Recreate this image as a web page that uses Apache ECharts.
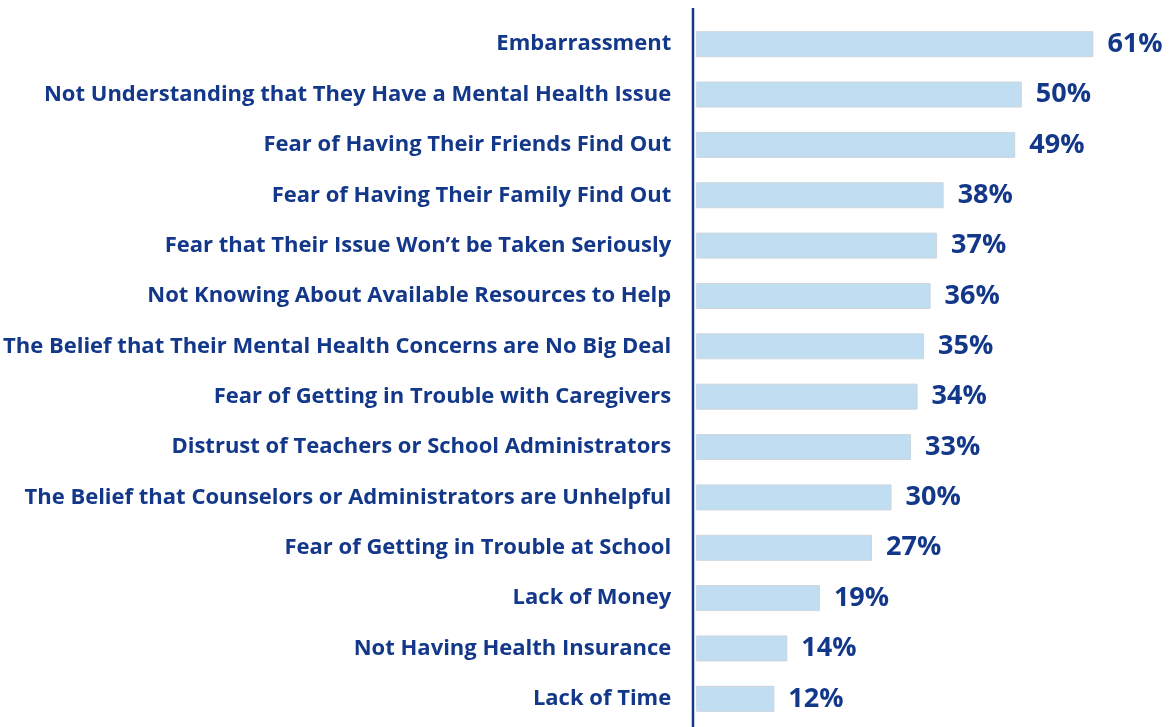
<!DOCTYPE html>
<html>
<head>
<meta charset="utf-8">
<script src="https://cdn.jsdelivr.net/npm/echarts@6/dist/echarts.min.js"></script>
<style>
html,body{margin:0;padding:0;background:#fff;}
#c{width:1172px;height:727px;}
</style>
</head>
<body>
<div id="c"></div>
<script>
var categories = [
  "Embarrassment",
  "Not Understanding that They Have a Mental Health Issue",
  "Fear of Having Their Friends Find Out",
  "Fear of Having Their Family Find Out",
  "Fear that Their Issue Won\u2019t be Taken Seriously",
  "Not Knowing About Available Resources to Help",
  "The Belief that Their Mental Health Concerns are No Big Deal",
  "Fear of Getting in Trouble with Caregivers",
  "Distrust of Teachers or School Administrators",
  "The Belief that Counselors or Administrators are Unhelpful",
  "Fear of Getting in Trouble at School",
  "Lack of Money",
  "Not Having Health Insurance",
  "Lack of Time"
];
var values = [61, 50, 49, 38, 37, 36, 35, 34, 33, 30, 27, 19, 14, 12];

var navy = '#13388a';
var chart = echarts.init(document.getElementById('c'));
chart.setOption({
  animation: false,
  backgroundColor: '#ffffff',
  grid: { left: 694, right: 20, top: 19, bottom: 3, containLabel: false },
  xAxis: {
    type: 'value', min: 0, max: 70,
    show: false
  },
  yAxis: {
    type: 'category',
    data: categories,
    inverse: true,
    axisLine: { show: false },
    axisTick: { show: false },
    axisLabel: {
      color: navy, fontFamily: 'Open Sans', fontWeight: 'bold', fontSize: 22, margin: 25
    }
  },
  graphic: [{
    type: 'line',
    shape: { x1: 693, y1: 8, x2: 693, y2: 727 },
    style: { stroke: navy, lineWidth: 2.5 }
  }],
  series: [{
    type: 'bar',
    data: values,
    barWidth: 26,
    itemStyle: { color: '#c0ddf1', borderColor: '#cdd5dc', borderWidth: 1 },
    label: {
      show: true, position: 'right', distance: 14,
      formatter: '{c}%',
      color: navy, fontFamily: 'Open Sans', fontWeight: 'bold', fontSize: 27
    }
  }]
});
</script>
</body>
</html>
